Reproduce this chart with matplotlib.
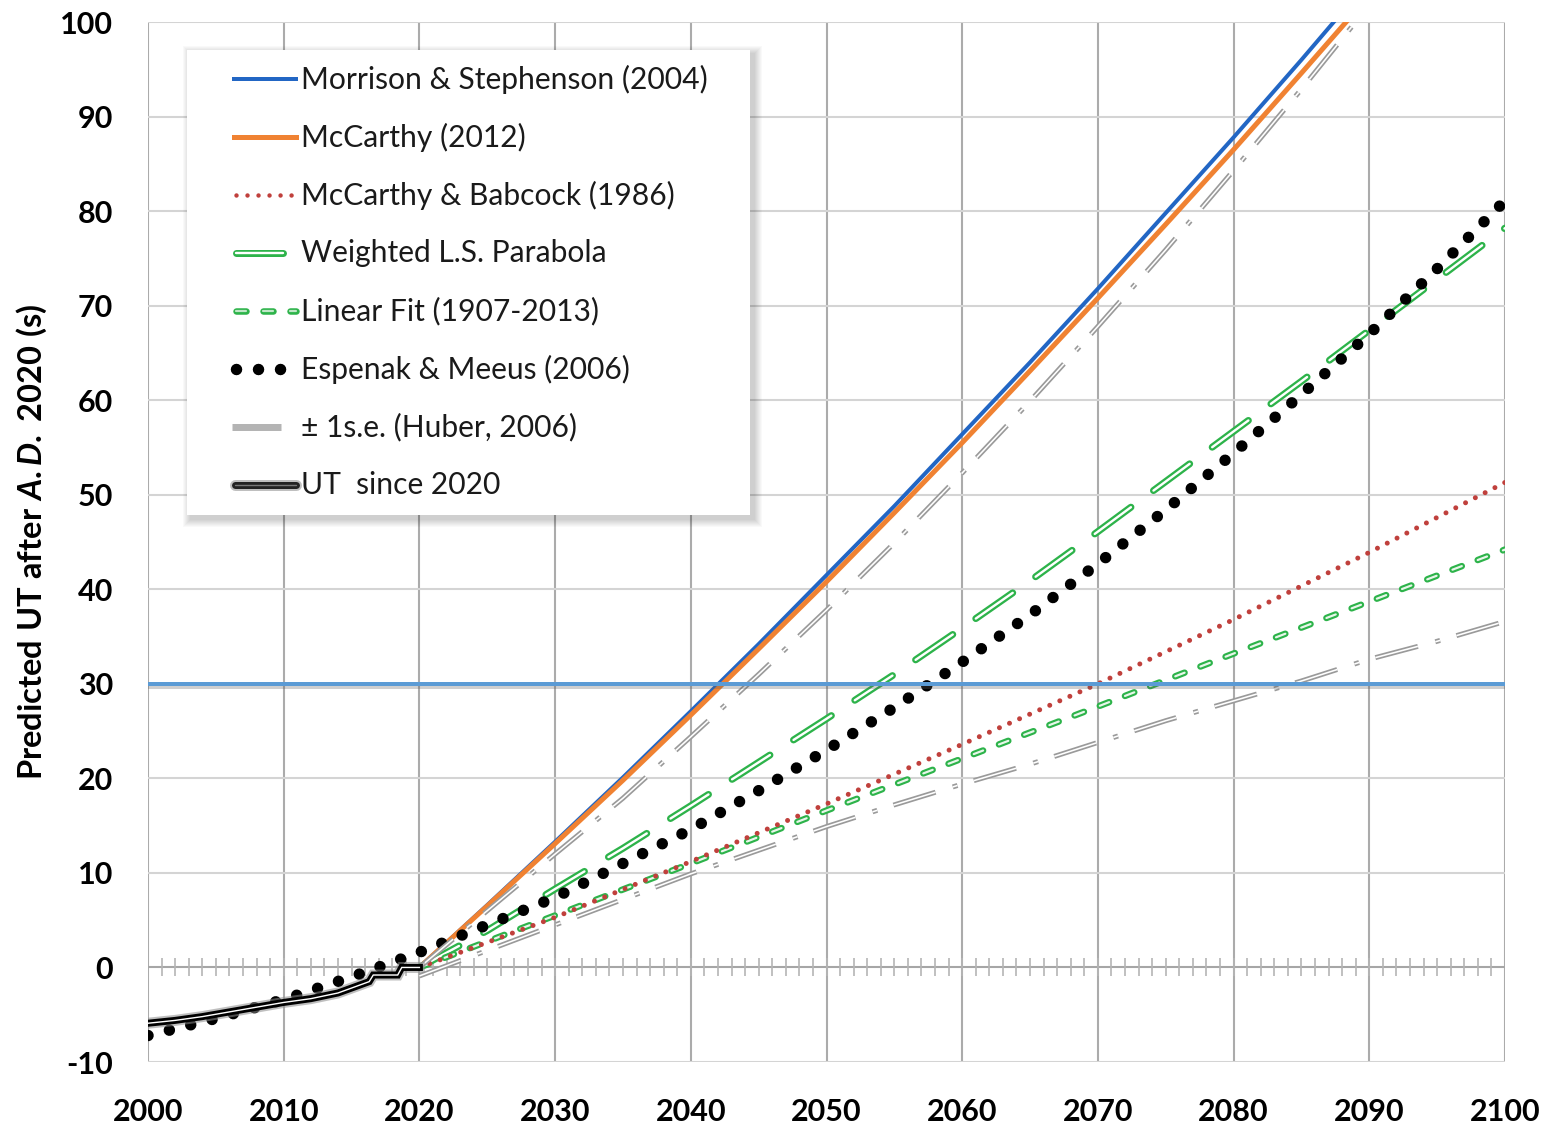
import matplotlib
matplotlib.use('Agg')
import matplotlib.pyplot as plt
import matplotlib.patheffects as pe
from matplotlib.lines import Line2D
from matplotlib.patches import Rectangle

plt.rcParams['font.family'] = ['Lato', 'DejaVu Sans']
plt.rcParams['axes.unicode_minus'] = False
plt.rcParams['lines.scale_dashes'] = False
plt.rcParams['mathtext.fontset'] = 'custom'
plt.rcParams['mathtext.rm'] = 'Lato:bold'
plt.rcParams['mathtext.bf'] = 'Lato:bold'
plt.rcParams['mathtext.it'] = 'Lato:style=italic:weight=bold'

# --- data ---
ms_year = [2020, 2025, 2030, 2035, 2040, 2045, 2050, 2055, 2060, 2065, 2070, 2075, 2080, 2085, 2090]
ms_val = [0, 6.6, 13.3, 20.1, 27.1, 34.2, 41.5, 48.8, 56.4, 64.0, 71.8, 79.8, 87.8, 96.0, 104.4]
mc_val = [0, 6.5, 13.1, 19.8, 26.7, 33.7, 40.8, 48.1, 55.5, 63.1, 70.8, 78.6, 86.5, 94.6, 102.8]

mb_year = [2020, 2030, 2040, 2050, 2060, 2070, 2080, 2090, 2100]
mb_val = [0, 5.3, 11.2, 17.3, 23.6, 30.0, 36.8, 43.9, 51.3]

wp_year = [2020, 2025, 2030, 2035, 2040, 2045, 2050, 2055, 2060, 2065, 2070, 2075, 2080, 2085, 2090, 2095, 2100]
wp_val = [0, 3.9, 8.3, 12.6, 17.1, 21.7, 26.3, 31.0, 35.9, 40.9, 46.1, 51.4, 56.7, 62.0, 67.4, 72.8, 78.2]

lf_year = [2020, 2030, 2040, 2050, 2060, 2070, 2080, 2090, 2100]
lf_val = [0, 5.5, 11.0, 16.6, 22.1, 27.6, 33.2, 38.7, 44.2]

em_year = [2000, 2005, 2010, 2015, 2020, 2025, 2030, 2035, 2040, 2045, 2050,
           2055, 2060, 2065, 2070, 2075, 2080, 2085, 2090, 2095, 2100]
em_val = [-7.2, -5.4, -3.4, -1.0, 1.6, 4.5, 7.4, 11.0, 14.6, 18.7, 23.0,
          27.5, 32.3, 37.3, 42.7, 48.4, 54.4, 60.6, 67.0, 73.9, 81.1]

hu_up_year = [2020, 2025, 2030, 2035, 2040, 2045, 2050, 2055, 2060, 2065, 2070, 2075, 2080, 2085, 2090]
hu_up_val = [0.0, 6.0, 12.0, 17.9, 24.4, 31.0, 37.8, 44.9, 52.3, 59.9, 67.8, 75.9, 84.3, 92.9, 101.8]
hu_lo_year = [2020, 2025, 2030, 2035, 2040, 2045, 2050, 2055, 2060, 2065, 2070, 2075, 2080, 2085, 2090, 2095, 2100]
hu_lo_val = [-0.9, 1.8, 4.5, 7.2, 9.9, 12.4, 14.9, 17.2, 19.4, 21.5, 23.8, 26.1, 28.2, 30.3, 32.6, 34.5, 36.6]

ut_year = [2000, 2002, 2004, 2006, 2008, 2010, 2012, 2014, 2016.3, 2016.6, 2018.4, 2018.7, 2020]
ut_val = [-5.9, -5.6, -5.2, -4.7, -4.2, -3.7, -3.3, -2.7, -1.5, -0.8, -0.8, 0.0, 0.0]

threshold = 30
minor_years = list(range(2001, 2100))

labels = ['Morrison & Stephenson (2004)', 'McCarthy (2012)', 'McCarthy & Babcock (1986)',
          'Weighted L.S. Parabola', 'Linear Fit (1907-2013)', 'Espenak & Meeus (2006)',
          '\u00b1 1s.e. (Huber, 2006)', 'UT  since 2020']

W, H = 1550, 1129
PX = 0.72  # points per pixel at 100 dpi

fig = plt.figure(figsize=(W / 100, H / 100), dpi=100)
ax = fig.add_axes([148 / W, 1 - 1062 / H, (1505 - 148) / W, (1062 - 22) / H])
ax.set_xlim(2000, 2100)
ax.set_ylim(-10, 100)
ax.set_xticks(range(2000, 2101, 10))
ax.set_yticks(range(-10, 101, 10))
ax.tick_params(length=0, labelsize=22)
ax.tick_params(axis='y', pad=25)
ax.tick_params(axis='x', pad=26)
for lab in ax.get_xticklabels() + ax.get_yticklabels():
    lab.set_fontweight('bold')
for s in ax.spines.values():
    s.set_visible(False)

# grid
for x in range(2000, 2101, 10):
    ax.axvline(x, color='#ABABAB', lw=1.5, zorder=0)
for y in range(-10, 101, 10):
    if y != 0:
        ax.axhline(y, color='#D4D4D4', lw=1.5, zorder=0)
ax.axhline(0, color='#A6A6A6', lw=1.5, zorder=0.5)
ax.vlines(minor_years, -0.95, 0.95, color='#B5B5B5', lw=1.2, zorder=0.5)

ax.set_ylabel(r'$\mathbf{Predicted\ UT\ after\ }\mathit{A.D.}\mathbf{\ 2020\ (s)}$',
              fontsize=23.5, labelpad=8)

# series
ax.plot(ms_year, ms_val, color='#2266C4', lw=4 * PX, zorder=3)
ax.plot(ms_year, mc_val, color='#F08232', lw=5 * PX, zorder=3.1)

# weighted parabola (double line)
wp_dash = (0, (45 * PX, 28 * PX))
ax.plot(wp_year, wp_val, color='#2DB34A', lw=7 * PX, ls=wp_dash, dash_capstyle='round', zorder=3.2)
ax.plot(wp_year, wp_val, color='white', lw=2.4 * PX, ls=wp_dash, dash_capstyle='round', zorder=3.25)

# linear fit (double line)
lf_dash = (0, (10 * PX, 17 * PX))
ax.plot(lf_year, lf_val, color='#2DB34A', lw=6.5 * PX, ls=lf_dash, dash_capstyle='round', zorder=3.3)
ax.plot(lf_year, lf_val, color='#E8F6EA', lw=2.2 * PX, ls=lf_dash, dash_capstyle='round', zorder=3.35)

# McCarthy & Babcock dotted
ax.plot(mb_year, mb_val, color='#C0403C', lw=5 * PX, ls=(0, (0.01, 11 * PX)),
        dash_capstyle='round', zorder=3.4)

# Espenak & Meeus round dots
ax.plot(em_year, em_val, color='black', lw=11.5 * PX, ls=(0, (0.01, 22 * PX)),
        dash_capstyle='round', zorder=3.5)

# Huber +/- 1 s.e. (double dash-dot)
hu_dash = (0, (44 * PX, 18 * PX, 5 * PX, 17 * PX))
for yy, vv in [(hu_up_year, hu_up_val), (hu_lo_year, hu_lo_val)]:
    ax.plot(yy, vv, color='#9A9A9A', lw=5 * PX, ls=hu_dash, dash_capstyle='butt', zorder=3.6)
    ax.plot(yy, vv, color='white', lw=1.6 * PX, ls=hu_dash, dash_capstyle='butt', zorder=3.65)

# UT since 2020
ax.plot(ut_year, ut_val, color='#8C8C8C', lw=11 * PX, alpha=0.55, solid_joinstyle='miter', zorder=3.7)
ax.plot(ut_year, ut_val, color='black', lw=7 * PX, solid_joinstyle='miter', zorder=3.75)
ax.plot(ut_year, ut_val, color='white', lw=1.4 * PX, solid_joinstyle='miter', zorder=3.8)

# 30 s threshold
ax.axhline(threshold, color='#5B9BD5', lw=4 * PX, zorder=3.9,
           path_effects=[pe.SimpleLineShadow(offset=(0, -2), shadow_color='#606060', alpha=0.3),
                         pe.Normal()])


# --- legend drawn by hand in pixel coordinates ---
def fx(x):
    return x / W


def fy(y):
    return 1 - y / H


lx0, ly0, lx1, ly1 = 187, 50, 750, 515
for i in range(8):
    g = 8 - i
    fig.add_artist(Rectangle((fx(lx0 - g + 4), fy(ly1 + g + 4)), (lx1 - lx0 + 2 * g) / W,
                             (ly1 - ly0 + 2 * g) / H, transform=fig.transFigure,
                             facecolor='black', edgecolor='none', alpha=0.025, zorder=10))
fig.add_artist(Rectangle((fx(lx0), fy(ly1)), (lx1 - lx0) / W, (ly1 - ly0) / H,
                         transform=fig.transFigure, facecolor='white', edgecolor='none', zorder=11))

rows = [79, 137, 195, 253, 311, 369, 427, 485]


def handle(x0, x1, y, **kw):
    fig.add_artist(Line2D([fx(x0), fx(x1)], [fy(y), fy(y)], transform=fig.transFigure, zorder=12, **kw))


handle(234, 296, rows[0], color='#2266C4', lw=4 * PX)
handle(234, 296, rows[1], color='#F08232', lw=5 * PX)
handle(236, 296, rows[2], color='#C0403C', lw=4.5 * PX, ls=(0, (0.01, 11 * PX)), dash_capstyle='round')
handle(236, 283, rows[3], color='#2DB34A', lw=7 * PX, solid_capstyle='round')
handle(236, 283, rows[3], color='white', lw=2.4 * PX, solid_capstyle='round')
handle(236, 296, rows[4], color='#2DB34A', lw=6.5 * PX, ls=lf_dash, dash_capstyle='round')
handle(236, 296, rows[4], color='#BFE6C6', lw=2.2 * PX, ls=lf_dash, dash_capstyle='round')
handle(236, 282, rows[5], color='black', lw=11.5 * PX, ls=(0, (0.01, 22 * PX)), dash_capstyle='round')
handle(232, 281, rows[6], color='#B4B4B4', lw=7 * PX, solid_capstyle='butt')
handle(235, 296, rows[7], color='#8C8C8C', lw=11 * PX, alpha=0.55, solid_capstyle='round')
handle(235, 296, rows[7], color='#222222', lw=7 * PX, solid_capstyle='round')
handle(235, 296, rows[7], color='#777777', lw=1.4 * PX, solid_capstyle='round')

for y, lab in zip(rows, labels):
    fig.text(fx(301), fy(y), lab, fontsize=21.6, ha='left', va='center', zorder=13, color='#1A1A1A')

fig.savefig('out.png', dpi=100)
